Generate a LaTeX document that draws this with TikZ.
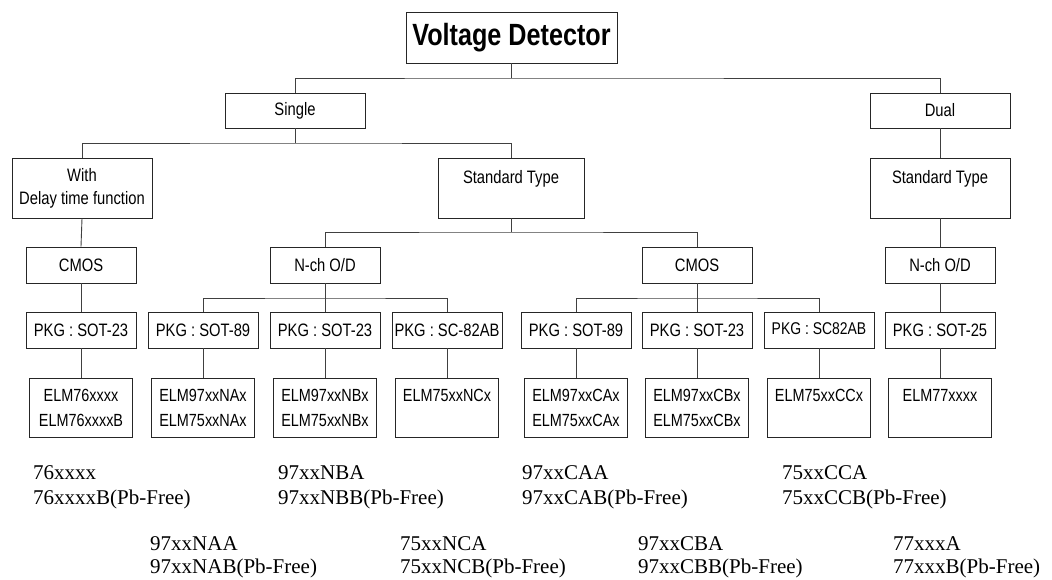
\documentclass[tikz,border=0pt]{standalone}
\usepackage{fontspec}
\setmainfont{Liberation Serif}
\newfontfamily\narrowsans[FakeStretch=0.82]{Liberation Sans}
\begin{document}
\begin{tikzpicture}[x=1pt,y=-1pt,
  box/.style={draw=black!85, line width=0.9pt, inner sep=0pt, align=center,
    font=\narrowsans\fontsize{18}{23}\selectfont},
  titlebox/.style={box, minimum width=211pt, minimum height=51pt,
    font=\narrowsans\bfseries\fontsize{30.7}{34}\selectfont},
  wide/.style={box, minimum width=140pt, minimum height=35pt},
  tall/.style={box, minimum width=140pt, minimum height=60pt},
  mid/.style={box, minimum width=110pt, minimum height=36pt},
  elm/.style={box, minimum width=103pt, minimum height=59pt,
    font=\narrowsans\fontsize{17.6}{25}\selectfont},
  conn/.style={draw=black!75, line width=0.9pt},
  code/.style={anchor=base west, inner sep=0pt, font=\fontsize{21}{25}\selectfont}
]
\useasboundingbox (0,0) rectangle (1052,579);

% level 0
\node[titlebox] (title) at (511.5,37.5) {Voltage Detector};
% level 1
\node[wide] (single) at (295,110.5) {Single};
\node[wide] (dual) at (940,110.5) {Dual};
% level 2
\node[tall] (with) at (82,188) {With\\Delay time function};
\node[tall, minimum width=146pt] (std) at (511,188) {Standard Type\\\mbox{}};
\node[tall] (stdD) at (940,188) {Standard Type\\\mbox{}};
% level 3
\node[mid] (cmosL) at (81,265) {CMOS};
\node[mid] (nchL) at (325,265) {N-ch O/D};
\node[mid] (cmosM) at (697,265) {CMOS};
\node[mid] (nchR) at (940,265) {N-ch O/D};
% level 4
\node[mid] (pkgA) at (81,330) {PKG : SOT-23};
\node[mid] (pkgB) at (203,330) {PKG : SOT-89};
\node[mid] (pkgC) at (325,330) {PKG : SOT-23};
\node[mid] (pkgD) at (447,330) {PKG : SC-82AB};
\node[mid] (pkgE) at (576,330) {PKG : SOT-89};
\node[mid] (pkgF) at (697,330) {PKG : SOT-23};
\node[mid] (pkgG) at (819,330) {\raisebox{3pt}{\fontsize{17}{23}\selectfont PKG : SC82AB}};
\node[mid] (pkgH) at (940,330) {PKG : SOT-25};
% level 5
\node[elm] (elmA) at (81,407.5) {ELM76xxxx\\ELM76xxxxB};
\node[elm] (elmB) at (203,407.5) {ELM97xxNAx\\ELM75xxNAx};
\node[elm] (elmC) at (325,407.5) {ELM97xxNBx\\ELM75xxNBx};
\node[elm] (elmD) at (447,407.5) {ELM75xxNCx\\\mbox{}};
\node[elm] (elmE) at (576,407.5) {ELM97xxCAx\\ELM75xxCAx};
\node[elm] (elmF) at (697,407.5) {ELM97xxCBx\\ELM75xxCBx};
\node[elm] (elmG) at (819,407.5) {ELM75xxCCx\\\mbox{}};
\node[elm] (elmH) at (940,407.5) {ELM77xxxx\\\mbox{}};

% bus coordinates
\coordinate (b1) at (511.5,78);
\coordinate (b2) at (295,143);
\coordinate (b3) at (511,232);
\coordinate (b4) at (325,298);
\coordinate (b5) at (697,298);

% connectors
\draw[conn] (title.south) -- (b1);
\draw[conn] (single.north) |- (b1) -| (dual.north);
\draw[conn] (single.south) -- (b2);
\draw[conn] (with.north) |- (b2) -| (std.north);
\draw[conn] (dual.south) -- (stdD.north);
\draw[conn] (std.south) -- (b3);
\draw[conn] (nchL.north) |- (b3) -| (cmosM.north);
\draw[conn] (stdD.south) -- (nchR.north);
\draw[conn] (with.south) -- (cmosL.north);
\draw[conn] (cmosL.south) -- (pkgA.north);
\draw[conn] (nchL.south) -- (b4);
\draw[conn] (pkgB.north) |- (b4) -| (pkgD.north);
\draw[conn] (b4) -- (pkgC.north);
\draw[conn] (cmosM.south) -- (b5);
\draw[conn] (pkgE.north) |- (b5) -| (pkgG.north);
\draw[conn] (b5) -- (pkgF.north);
\draw[conn] (nchR.south) -- (pkgH.north);
\draw[conn] (pkgA.south) -- (elmA.north);
\draw[conn] (pkgB.south) -- (elmB.north);
\draw[conn] (pkgC.south) -- (elmC.north);
\draw[conn] (pkgD.south) -- (elmD.north);
\draw[conn] (pkgE.south) -- (elmE.north);
\draw[conn] (pkgF.south) -- (elmF.north);
\draw[conn] (pkgG.south) -- (elmG.north);
\draw[conn] (pkgH.south) -- (elmH.north);

% part-number notes
\node[code] (t1a) at (33,479) {76xxxx};
\node[code] (t1b) at (33,504) {76xxxxB(Pb-Free)};
\node[code] (t2a) at (278,479) {97xxNBA};
\node[code] (t2b) at (278,504) {97xxNBB(Pb-Free)};
\node[code] (t3a) at (522,479) {97xxCAA};
\node[code] (t3b) at (522,504) {97xxCAB(Pb-Free)};
\node[code] (t4a) at (782,479) {75xxCCA};
\node[code] (t4b) at (782,504) {75xxCCB(Pb-Free)};
\node[code] (u1a) at (150,550) {97xxNAA};
\node[code] (u1b) at (150,573) {97xxNAB(Pb-Free)};
\node[code] (u2a) at (400,550) {75xxNCA};
\node[code] (u2b) at (400,573) {75xxNCB(Pb-Free)};
\node[code] (u3a) at (638,550) {97xxCBA};
\node[code] (u3b) at (638,573) {97xxCBB(Pb-Free)};
\node[code] (u4a) at (893,550) {77xxxA};
\node[code] (u4b) at (893,573) {77xxxB(Pb-Free)};
\end{tikzpicture}
\end{document}
